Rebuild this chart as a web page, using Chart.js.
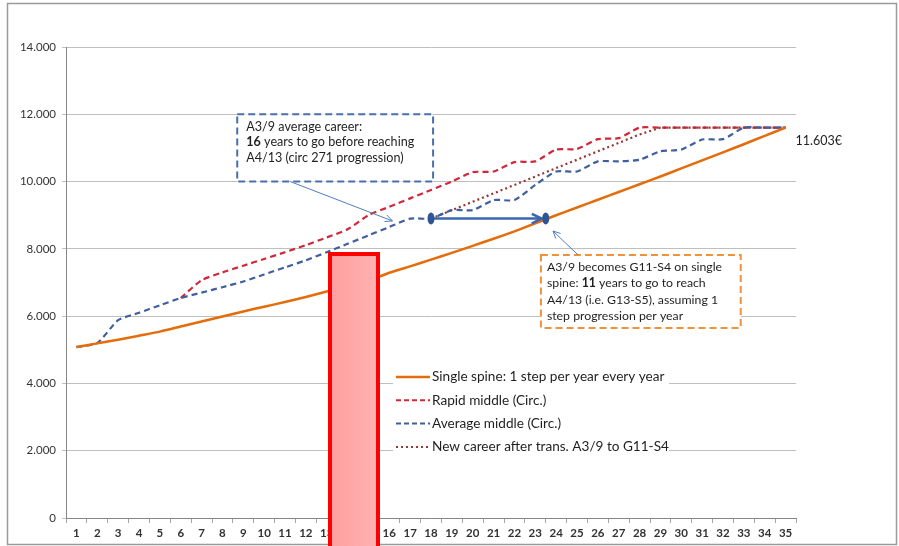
<!DOCTYPE html>
<html>
<head>
<meta charset="utf-8">
<script src="https://cdn.jsdelivr.net/npm/chart.js@4.4.0/dist/chart.umd.min.js"></script>
<style>
  html, body { margin: 0; padding: 0; background: #fff; }
</style>
</head>
<body>
<canvas id="myChart" width="899" height="546"></canvas>
<script>
const years = ['1','2','3','4','5','6','7','8','9','10','11','12','13','14','15','16','17','18',
  '19','20','21','22','23','24','25','26','27','28','29','30','31','32','33','34','35'];

const singleSpine = [5080, 5190, 5300, 5420, 5540, 5690, 5840, 5990, 6140, 6280, 6420, 6570, 6730, 6900,
  7050, 7290, 7480, 7680, 7880, 8090, 8300, 8520, 8760, 9000, 9230, 9460, 9690, 9920, 10150, 10390,
  10630, 10870, 11110, 11360, 11603];
const rapidMiddle = [null, null, null, null, null, 6540, 7070, 7300, 7500, 7700, 7900, 8110, 8340, 8580,
  9000, 9250, 9500, 9750, 10000, 10280, 10300, 10580, 10600, 10950, 10970, 11260, 11290, 11603, 11603,
  11603, 11603, 11603, 11603, 11603, 11603];
const averageMiddle = [5080, 5200, 5880, 6100, 6320, 6540, 6700, 6860, 7030, 7240, 7450, 7660, 7900, 8150,
  8400, 8650, 8900, 8900, 9150, 9150, 9450, 9450, 9900, 10300, 10300, 10600, 10600, 10650, 10900, 10950,
  11250, 11260, 11603, 11603, 11603];
const newCareer = [null, null, null, null, null, null, null, null, null, null, null, null, null, null,
  null, null, null, 8900, 9150, 9400, 9650, 9900, 10150, 10400, 10650, 10900, 11150, 11400, 11603,
  11603, 11603, 11603, 11603, 11603, 11603];

const finalLabel = '11.603€';
// transition arrow: from year 18 on the average career to the single spine (year ~23.5)
const transFrom = [18, 8900];
const transTo = [23.5, 8900];

const FONT = 'Lato, "Open Sans", sans-serif';
const TEXT = '#1f1f1f';
const seriesColors = {
  single: '#E46C0A',
  rapid: '#D0283A',
  average: '#3F5F9F',
  newc: '#953735',
};

const legendItems = [
  { text: 'Single spine: 1 step per year every year', color: seriesColors.single, dash: [], width: 2.5 },
  { text: 'Rapid middle (Circ.)', color: seriesColors.rapid, dash: [5, 3], width: 2 },
  { text: 'Average middle (Circ.)', color: seriesColors.average, dash: [5, 3], width: 2 },
  { text: 'New career after trans. A3/9 to G11-S4', color: seriesColors.newc, dash: [2, 3], width: 2 },
];

function arrowHead(ctx, x1, y1, x2, y2, size, width) {
  const a = Math.atan2(y2 - y1, x2 - x1);
  ctx.beginPath();
  ctx.moveTo(x2 - size * Math.cos(a - 0.45), y2 - size * Math.sin(a - 0.45));
  ctx.lineTo(x2, y2);
  ctx.lineTo(x2 - size * Math.cos(a + 0.45), y2 - size * Math.sin(a + 0.45));
  ctx.lineWidth = width;
  ctx.stroke();
}

function richLine(ctx, parts, x, y, size) {
  let cx = x;
  parts.forEach(([txt, bold]) => {
    ctx.font = (bold ? 'bold ' : '') + size + 'px ' + FONT;
    ctx.fillText(txt, cx, y);
    cx += ctx.measureText(txt).width;
  });
}

const overlays = {
  id: 'overlays',
  beforeDraw(chart) {
    const { ctx } = chart;
    ctx.save();
    ctx.fillStyle = '#fff';
    ctx.fillRect(0, 0, chart.width, chart.height);
    ctx.strokeStyle = '#9a9a9a';
    ctx.lineWidth = 1.5;
    ctx.strokeRect(7.5, 3.5, 889, 541);
    ctx.restore();
  },
  afterDatasetsDraw(chart) {
    const { ctx, scales: { x, y } } = chart;
    const px = (lbl) => x.getPixelForValue(lbl - 1);
    const py = (v) => y.getPixelForValue(v);
    ctx.save();

    // transition arrow
    const ax1 = px(transFrom[0]), ay1 = py(transFrom[1]);
    const ax2 = px(transTo[0]), ay2 = py(transTo[1]);
    ctx.strokeStyle = '#3A66B0';
    ctx.lineWidth = 2.5;
    ctx.beginPath();
    ctx.moveTo(ax1, ay1);
    ctx.lineTo(ax2 - 4, ay2);
    ctx.stroke();
    arrowHead(ctx, ax1, ay1, ax2 - 4, ay2, 11, 2.5);
    ctx.fillStyle = '#2F5597';
    [[ax1, ay1], [ax2, ay2]].forEach(([ex, ey]) => {
      ctx.beginPath();
      ctx.ellipse(ex, ey, 3.5, 6, 0, 0, Math.PI * 2);
      ctx.fill();
    });

    // blue callout box
    const b = { x1: px(8.71), x2: px(18.1), y1: py(12000), y2: py(10000) };
    ctx.fillStyle = '#fff';
    ctx.fillRect(b.x1, b.y1, b.x2 - b.x1, b.y2 - b.y1);
    ctx.setLineDash([7, 4]);
    ctx.strokeStyle = '#4A70AC';
    ctx.lineWidth = 2;
    ctx.strokeRect(b.x1, b.y1, b.x2 - b.x1, b.y2 - b.y1);
    ctx.setLineDash([]);
    ctx.fillStyle = TEXT;
    ctx.textBaseline = 'middle';
    ctx.textAlign = 'left';
    richLine(ctx, [['A3/9 average career:', false]], b.x1 + 9, b.y1 + 13, 12.6);
    richLine(ctx, [['16', true], [' years to go before reaching', false]], b.x1 + 9, b.y1 + 28, 12.6);
    richLine(ctx, [['A4/13 (circ 271 progression)', false]], b.x1 + 9, b.y1 + 44, 12.6);
    // callout line
    ctx.strokeStyle = '#4F7EC0';
    ctx.lineWidth = 1;
    const c1x = px(11.25), c1y = b.y2, c2x = px(16.15), c2y = py(8830);
    ctx.beginPath();
    ctx.moveTo(c1x, c1y);
    ctx.lineTo(c2x, c2y);
    ctx.stroke();
    arrowHead(ctx, c1x, c1y, c2x, c2y, 8, 1);

    // orange callout box
    const o = { x1: px(23.27), x2: px(32.85), y1: py(7820), y2: py(5650) };
    ctx.fillStyle = '#fff';
    ctx.fillRect(o.x1, o.y1, o.x2 - o.x1, o.y2 - o.y1);
    ctx.setLineDash([7, 4]);
    ctx.strokeStyle = '#F0923A';
    ctx.lineWidth = 2;
    ctx.strokeRect(o.x1, o.y1, o.x2 - o.x1, o.y2 - o.y1);
    ctx.setLineDash([]);
    ctx.fillStyle = TEXT;
    richLine(ctx, [['A3/9 becomes G11-S4 on single', false]], o.x1 + 6, o.y1 + 12, 12.3);
    richLine(ctx, [['spine: ', false], ['11', true], [' years to go to reach', false]], o.x1 + 6, o.y1 + 28, 12.3);
    richLine(ctx, [['A4/13 (i.e. G13-S5), assuming 1', false]], o.x1 + 6, o.y1 + 45, 12.3);
    richLine(ctx, [['step progression per year', false]], o.x1 + 6, o.y1 + 61, 12.3);
    ctx.strokeStyle = '#4F7EC0';
    ctx.lineWidth = 1;
    const d1x = px(25.05), d1y = o.y1, d2x = px(23.85), d2y = py(8530);
    ctx.beginPath();
    ctx.moveTo(d1x, d1y);
    ctx.lineTo(d2x, d2y);
    ctx.stroke();
    arrowHead(ctx, d1x, d1y, d2x, d2y, 8, 1);

    // end value label
    ctx.fillStyle = TEXT;
    ctx.font = '12.5px ' + FONT;
    ctx.fillText(finalLabel, px(35) + 10, py(11603) + 13);

    // legend inside the plot
    ctx.fillStyle = '#fff';
    ctx.fillRect(393, 364, 276, 92);
    legendItems.forEach((it, i) => {
      const ly = 377 + i * 23.3;
      ctx.strokeStyle = it.color;
      ctx.lineWidth = it.width;
      ctx.setLineDash(it.dash);
      ctx.beginPath();
      ctx.moveTo(396, ly);
      ctx.lineTo(430, ly);
      ctx.stroke();
      ctx.setLineDash([]);
      ctx.fillStyle = TEXT;
      ctx.font = '13.6px ' + FONT;
      ctx.fillText(it.text, 432, ly);
    });
    ctx.restore();
  },
  afterDraw(chart) {
    const { ctx } = chart;
    // highlight rectangle over the chart
    ctx.save();
    const g = ctx.createLinearGradient(328, 0, 380, 0);
    g.addColorStop(0, '#FF9E9E');
    g.addColorStop(1, '#FFB2B2');
    ctx.fillStyle = g;
    ctx.fillRect(328, 252, 52, 300);
    ctx.strokeStyle = '#FF0000';
    ctx.lineWidth = 4;
    ctx.strokeRect(330, 254, 48, 300);
    ctx.restore();
  },
};

const ctx = document.getElementById('myChart');

const myChart = new Chart(ctx, {
  type: 'line',
  plugins: [overlays],
  data: {
    labels: years,
    datasets: [
      {
        label: 'Single spine: 1 step per year every year',
        data: singleSpine,
        borderColor: seriesColors.single,
        borderWidth: 2.5,
        pointRadius: 0,
        tension: 0.2,
        order: 1,
      },
      {
        label: 'Rapid middle (Circ.)',
        data: rapidMiddle,
        borderColor: seriesColors.rapid,
        borderWidth: 2.2,
        borderDash: [6, 4],
        pointRadius: 0,
        tension: 0.2,
        order: 4,
      },
      {
        label: 'Average middle (Circ.)',
        data: averageMiddle,
        borderColor: seriesColors.average,
        borderWidth: 2.2,
        borderDash: [6, 4],
        pointRadius: 0,
        tension: 0.2,
        order: 2,
      },
      {
        label: 'New career after trans. A3/9 to G11-S4',
        data: newCareer,
        borderColor: seriesColors.newc,
        borderWidth: 2.2,
        borderDash: [2, 3],
        pointRadius: 0,
        tension: 0,
        order: 3,
      },
    ],
  },
  options: {
    responsive: false,
    animation: false,
    layout: {
      padding: { top: 47, right: 103, left: 0, bottom: 0 },
    },
    plugins: {
      legend: { display: false },
      tooltip: { enabled: false },
      title: { display: false },
    },
    scales: {
      x: {
        offset: true,
        grid: {
          offset: true,
          drawOnChartArea: false,
          drawTicks: true,
          tickLength: 5,
          color: '#A6A6A6',
        },
        border: { color: '#868686', width: 1 },
        ticks: {
          autoSkip: false,
          maxRotation: 0,
          padding: 3,
          color: '#333333',
          font: { family: FONT, size: 11.5, weight: 'bold' },
        },
        afterFit(scale) { scale.height = 28; },
      },
      y: {
        min: 0,
        max: 14000,
        ticks: {
          stepSize: 2000,
          padding: 6,
          color: '#333333',
          font: { family: FONT, size: 11.5 },
          callback: (v) => v.toLocaleString('de-DE'),
        },
        grid: {
          color: '#BFBFBF',
          tickLength: 4,
          lineWidth: 1,
        },
        border: { color: '#868686', width: 1 },
        afterFit(scale) { scale.width = 66; },
      },
    },
  },
});
</script>
</body>
</html>
